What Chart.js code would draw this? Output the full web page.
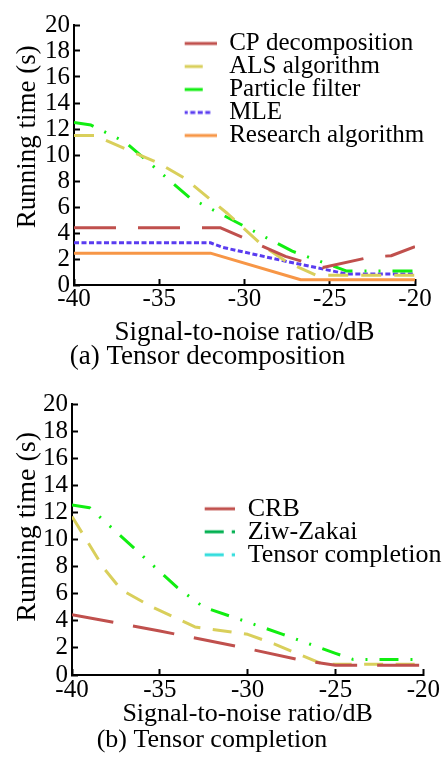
<!DOCTYPE html>
<html>
<head>
<meta charset="utf-8">
<script src="https://cdn.jsdelivr.net/npm/chart.js@4.4.1/dist/chart.umd.min.js"></script>
<style>
html,body{margin:0;padding:0;background:#fff;}
.box{width:446px;height:379px;position:relative;}
canvas{display:block;}
</style>
</head>
<body>
<div class="box"><canvas id="c1" width="446" height="379"></canvas></div>
<div class="box"><canvas id="c2" width="446" height="379"></canvas></div>
<script>
// ---------- shared tick values ----------
const snrTicks = [-40, -35, -30, -25, -20];
const timeTicks = [0, 2, 4, 6, 8, 10, 12, 14, 16, 18, 20];

// ---------- (a) Tensor decomposition ----------
const cpX  = [-40, -31.4, -27.6, -25.4, -22.6, -21.4, -20];
const cpY  = [4.4, 4.4, 2.2, 1.35, 2.15, 2.25, 2.95];
const alsX = [-40, -38.8, -35, -33.5, -31, -29, -27.5, -25.8, -20];
const alsY = [11.5, 11.5, 9.35, 8.2, 5.5, 3.1, 1.75, 0.75, 0.75];
const pfX  = [-40, -39, -37, -33.2, -27.2, -24, -20];
const pfY  = [12.5, 12.3, 11.0, 6.7, 2.6, 1.07, 1.07];
const mleX = [-40, -32, -31.3, -27.5, -24, -20];
const mleY = [3.25, 3.25, 2.9, 1.8, 0.85, 0.85];
const resX = [-40, -32, -26.7, -20];
const resY = [2.45, 2.45, 0.4, 0.4];
const legendA = ['CP decomposition', 'ALS algorithm', 'Particle filter', 'MLE', 'Research algorithm'];

// ---------- (b) Tensor completion ----------
const crbX = [-40, -35, -30, -27, -25, -20];
const crbY = [4.45, 3.25, 1.95, 1.1, 0.72, 0.72];
const zzX  = [-40, -38.2, -37.2, -35.5, -33, -30, -28.5, -25.7, -20];
const zzY  = [11.7, 7.9, 6.3, 5.05, 3.55, 3.0, 2.3, 0.79, 0.79];
const tcX  = [-40, -39, -34, -32.5, -30, -28, -25, -24, -20];
const tcY  = [12.55, 12.35, 6.45, 5.0, 3.9, 3.0, 1.6, 1.15, 1.15];
const legendB = ['CRB', 'Ziw-Zakai', 'Tensor completion'];

const xTitle = 'Signal-to-noise ratio/dB';
const yTitle = 'Running time (s)';
const captionA = '(a) Tensor decomposition';
const captionB = '(b) Tensor completion';

// ---------- helpers ----------
const FONT = '"Liberation Serif", "Times New Roman", serif';
const pts = (xs, ys) => xs.map((x, i) => ({ x: x, y: ys[i] }));
function ds(label, xs, ys, color, dash) {
  return {
    label: label, data: pts(xs, ys), borderColor: color, backgroundColor: color,
    borderWidth: 3, borderDash: dash, borderCapStyle: 'butt', borderJoinStyle: 'round',
    pointRadius: 0, pointHoverRadius: 0, tension: 0, fill: false
  };
}
// small legend swatch (line sample), drawn left to right
function swatch(color, dash, w) {
  const c = document.createElement('canvas');
  c.width = w; c.height = 6;
  const g = c.getContext('2d');
  g.strokeStyle = color; g.lineWidth = 3; g.lineCap = 'butt';
  g.setLineDash(dash);
  g.beginPath(); g.moveTo(0, 3); g.lineTo(w, 3); g.stroke();
  return c;
}
function legItem(text, color, dash, w, i) {
  return { text: text, strokeStyle: color, fillStyle: color, fontColor: '#000', lineWidth: 0,
           pointStyle: swatch(color, dash, w), hidden: false, datasetIndex: i };
}

const legendMover = {
  id: 'legendMover',
  afterLayout(chart, args, opts) {
    const l = chart.legend;
    if (!l) return;
    const w = l.width;
    l.left = opts.left; l.right = opts.left + w;
    l.top = opts.top; l.bottom = chart.height;
  }
};

function makeConfig(p) {
  return {
    type: 'line',
    data: { datasets: p.datasets },
    plugins: [legendMover],
    options: {
      responsive: false, animation: false, devicePixelRatio: 1,
      events: [],
      layout: { padding: { top: p.padTop, right: p.padRight, left: 0, bottom: 0 } },
      plugins: {
        legendMover: { left: p.legLeft, top: p.legTop },
        legend: {
          display: true, position: 'chartArea', align: 'start',
          labels: {
            usePointStyle: true, pointStyleWidth: p.boxW, boxWidth: p.boxW, boxHeight: 10,
            padding: p.legPad, color: '#000',
            font: { family: FONT, size: p.legSize, weight: 'normal', lineHeight: 1.2 },
            generateLabels: () => p.legendItems
          }
        },
        title: {
          display: true, position: 'bottom', text: p.caption, color: '#000',
          font: { family: FONT, size: p.capSize, weight: 'normal', lineHeight: 1 },
          padding: { top: 0, bottom: p.capPadBottom }
        },
        tooltip: { enabled: false }
      },
      scales: {
        x: {
          type: 'linear', min: -40, max: -20,
          afterBuildTicks: (s) => { s.ticks = snrTicks.map(v => ({ value: v })); },
          afterFit: (s) => { s.height = p.xAxisH; },
          ticks: { autoSkip: false, maxRotation: 0, color: '#000', padding: p.xTickPad,
                   font: { family: FONT, size: p.tickSize, weight: 'normal', lineHeight: 1.2 },
                   callback: (v) => String(v) },
          grid: { drawOnChartArea: false, drawTicks: true, tickLength: -6, tickWidth: 2,
                  tickColor: '#000', color: '#000' },
          border: { display: true, color: '#000', width: 2 },
          title: { display: true, text: xTitle, color: '#000',
                   font: { family: FONT, size: p.xTitleSize, weight: 'normal', lineHeight: 0.8 },
                   padding: { top: 0, bottom: p.xTitlePadBottom } }
        },
        y: {
          type: 'linear', min: 0, max: 20,
          afterBuildTicks: (s) => { s.ticks = timeTicks.map(v => ({ value: v })); },
          afterFit: (s) => { s.width = p.yAxisW; },
          ticks: { autoSkip: false, color: '#000', padding: 10,
                   font: { family: FONT, size: p.tickSize, weight: 'normal', lineHeight: 1.2 },
                   callback: (v) => String(v) },
          grid: { drawOnChartArea: false, drawTicks: true, tickLength: -6, tickWidth: 2,
                  tickColor: '#000', color: '#000' },
          border: { display: true, color: '#000', width: 2 },
          title: { display: true, text: yTitle + ' '.repeat(p.yTitleGap), align: 'end', color: '#000',
                   font: { family: FONT, size: p.yTitleSize, weight: 'normal', lineHeight: 1 },
                   padding: { top: p.yTitlePadTop, bottom: 0 } }
        }
      }
    }
  };
}

// colours
const cRed = '#c0504d', cYellow = '#d9cf5b', cGreen = '#11ee11', cBlue = '#5a3cf0', cOrange = '#f79646';
const cDarkGreen = '#00b050', cCyan = '#33dddd';

new Chart(document.getElementById('c1'), makeConfig({
  datasets: [
    ds(legendA[0], cpX, cpY, cRed, [42, 22]),
    ds(legendA[1], alsX, alsY, cYellow, [20, 13]),
    ds(legendA[2], pfX, pfY, cGreen, [20, 12, 2, 12, 2, 12]),
    ds(legendA[3], mleX, mleY, cBlue, [5, 2.5]),
    ds(legendA[4], resX, resY, cOrange, [])
  ],
  legendItems: [
    legItem(legendA[0], cRed, [], 34, 0),
    legItem(legendA[1], cYellow, [20, 100], 34, 1),
    legItem(legendA[2], cGreen, [20, 100], 34, 2),
    legItem(legendA[3], cBlue, [5, 2.5, 5, 2.5, 5, 2.5, 5, 100], 34, 3),
    legItem(legendA[4], cOrange, [], 34, 4)
  ],
  caption: captionA,
  padTop: 18, padRight: 31, yAxisW: 74, xAxisH: 58.8, xTickPad: 5, tickSize: 25,
  capSize: 27, capPadBottom: 8.2, xTitleSize: 27, xTitlePadBottom: 0,
  yTitleSize: 27, yTitlePadTop: 14, yTitleGap: 3, legSize: 25, legPad: -2, boxW: 34,
  legLeft: 184.7, legTop: 33
}));

new Chart(document.getElementById('c2'), makeConfig({
  datasets: [
    ds(legendB[0], crbX, crbY, cRed, [42, 20]),
    ds(legendB[1], zzX, zzY, cYellow, [19, 12.5]),
    ds(legendB[2], tcX, tcY, cGreen, [19, 12, 2, 12, 2, 12])
  ],
  legendItems: [
    legItem(legendB[0], cRed, [], 33, 0),
    legItem(legendB[1], cDarkGreen, [22, 8, 3, 100], 33, 1),
    legItem(legendB[2], cCyan, [22, 8, 3, 100], 33, 2)
  ],
  caption: captionB,
  padTop: 19, padRight: 22, yAxisW: 72, xAxisH: 52, xTickPad: 6, tickSize: 25,
  capSize: 26, capPadBottom: 5, xTitleSize: 26, xTitlePadBottom: 2.6,
  yTitleSize: 28, yTitlePadTop: 14, yTitleGap: 4, legSize: 26, legPad: -3, boxW: 33,
  legLeft: 204.7, legTop: 119.8
}));
</script>
</body>
</html>
